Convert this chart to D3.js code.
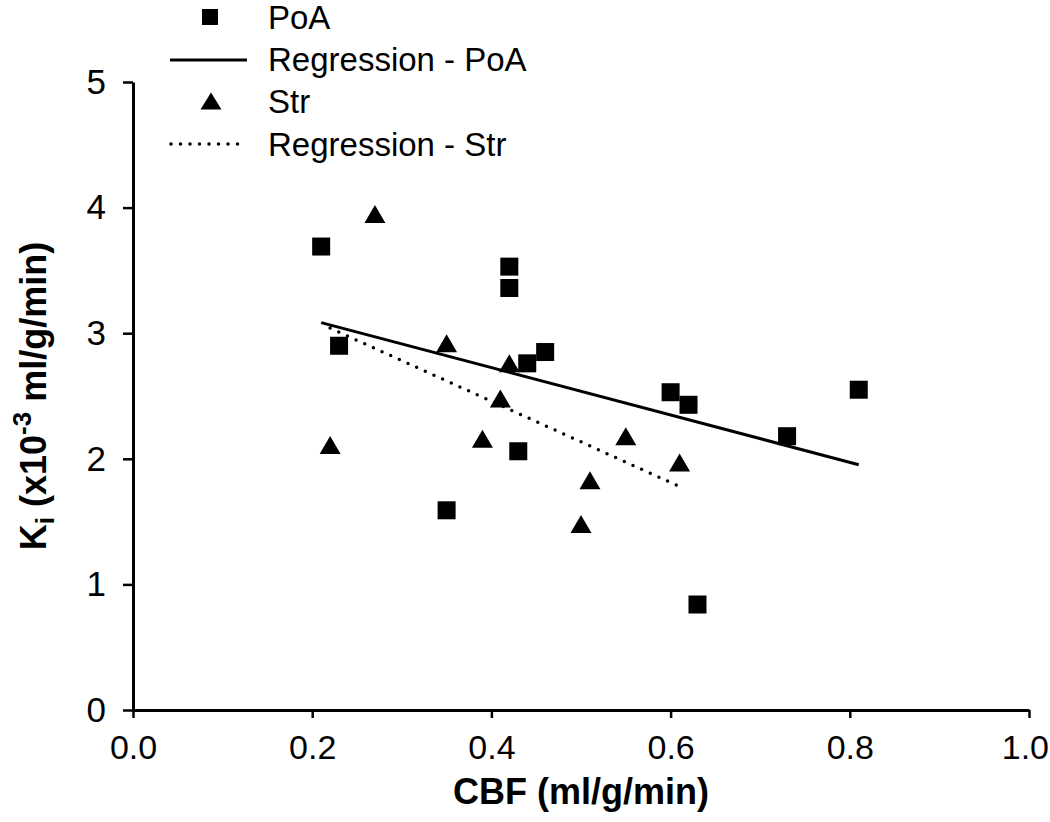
<!DOCTYPE html>
<html><head><meta charset="utf-8">
<script src="https://cdn.jsdelivr.net/npm/d3@7"></script>
<style>
body{margin:0;background:#fff}
text{font-family:"Liberation Sans",Arial,Helvetica,sans-serif;fill:#000}
</style>
</head><body>
<svg id="c" width="1050" height="822"></svg>
<script>
// ---- data ----
const poaX = [0.21,0.23,0.35,0.42,0.42,0.43,0.44,0.46,0.60,0.62,0.63,0.73,0.81];
const poaY = [3.69,2.90,1.59,3.53,3.36,2.06,2.76,2.85,2.53,2.43,0.84,2.18,2.55];
const strX = [0.22,0.27,0.35,0.39,0.41,0.42,0.50,0.51,0.55,0.61];
const strY = [2.11,3.95,2.92,2.16,2.48,2.76,1.48,1.83,2.18,1.97];
const xTicks = [0,0.2,0.4,0.6,0.8,1.0];
const yTicks = [0,1,2,3,4,5];
const legendLabels = ["PoA","Regression - PoA","Str","Regression - Str"];
const xTitle = "CBF (ml/g/min)";

const W = 1050;
const svg = d3.select("#c");
const x = d3.scaleLinear().domain([0,1]).range([133,1029]);
const y = d3.scaleLinear().domain([0,5]).range([710,82]);

function fit(xs, ys){
  const mx = d3.mean(xs), my = d3.mean(ys);
  let sxy=0, sxx=0;
  xs.forEach((v,i)=>{ sxy += (v-mx)*(ys[i]-my); sxx += (v-mx)*(v-mx); });
  const b = sxy/sxx, a = my - b*mx;
  const x0 = d3.min(xs), x1 = d3.max(xs);
  return [[x0, a+b*x0],[x1, a+b*x1]];
}

// axes
const xAxis = d3.axisBottom(x).tickValues(xTicks).tickFormat(d3.format(".1f"))
  .tickSizeInner(8).tickSizeOuter(0).tickPadding(17);
const yAxis = d3.axisLeft(y).tickValues(yTicks).tickFormat(d3.format("d"))
  .tickSizeInner(10).tickSizeOuter(0).tickPadding(17);

const gx = svg.append("g").attr("transform","translate(0,710)").call(xAxis);
const gy = svg.append("g").attr("transform","translate(133,0)").call(yAxis);
[gx,gy].forEach(g=>{
  g.select(".domain").attr("stroke","#000").attr("stroke-width",3);
  g.selectAll(".tick line").attr("stroke","#000").attr("stroke-width",2.5);
  g.selectAll(".tick text").attr("font-family","Liberation Sans, Arial, sans-serif").attr("fill","#000");
});
gx.selectAll(".tick text").attr("font-size",34);
gy.selectAll(".tick text").attr("font-size",35);
// keep the last x label inside the picture
gx.selectAll(".tick text").each(function(){
  const bb = this.getBBox(), tick = this.parentNode;
  const tx = +tick.getAttribute("transform").match(/translate\(([-\d.]+)/)[1];
  const over = tx + bb.x + bb.width - (W - 1);
  if (over > 0) d3.select(this).attr("x", -over);
});

// regression lines
const line = d3.line().x(d=>x(d[0])).y(d=>y(d[1]));
svg.append("path").datum(fit(poaX,poaY)).attr("d",line)
  .attr("fill","none").attr("stroke","#000").attr("stroke-width",3);
svg.append("path").datum(fit(strX,strY)).attr("d",line)
  .attr("fill","none").attr("stroke","#000").attr("stroke-width",3.5)
  .attr("stroke-linecap","round").attr("stroke-dasharray","0 9.5");

// marker shapes (relative to centre)
const sq = 18;
const triPath = (w,h)=>`M0,${-h/2}L${w/2},${h/2}L${-w/2},${h/2}Z`;

svg.append("g").selectAll("rect").data(poaX.map((v,i)=>[v,poaY[i]])).join("rect")
  .attr("x",d=>x(d[0])-sq/2).attr("y",d=>y(d[1])-sq/2)
  .attr("width",sq).attr("height",sq).attr("fill","#000");

svg.append("g").selectAll("path").data(strX.map((v,i)=>[v,strY[i]])).join("path")
  .attr("transform",d=>`translate(${x(d[0])},${y(d[1])})`)
  .attr("d",triPath(21,18)).attr("fill","#000");

// axis titles
svg.append("text").attr("x",x(0.5)).attr("y",804).attr("text-anchor","middle")
  .attr("font-size",36).attr("font-weight","bold").text(xTitle);

const yt = svg.append("text").attr("transform",`translate(46,${(y(0)+y(5))/2}) rotate(-90)`)
  .attr("text-anchor","middle").attr("font-size",36).attr("font-weight","bold");
yt.append("tspan").text("K");
yt.append("tspan").attr("font-size",26).attr("dy",8).text("i");
yt.append("tspan").attr("dy",-8).text(" (x10");
yt.append("tspan").attr("font-size",26).attr("dy",-15).text("-3");
yt.append("tspan").attr("dy",15).text(" ml/g/min)");

// legend
const lg = svg.append("g");
const rowsY = [17,59,101,144];
lg.append("rect").attr("x",202).attr("y",rowsY[0]-8).attr("width",16).attr("height",16).attr("fill","#000");
lg.append("line").attr("x1",170).attr("x2",247).attr("y1",rowsY[1]+1).attr("y2",rowsY[1]+1)
  .attr("stroke","#000").attr("stroke-width",3);
lg.append("path").attr("transform",`translate(211,${rowsY[2]})`).attr("d",triPath(21,17)).attr("fill","#000");
lg.append("line").attr("x1",171).attr("x2",247).attr("y1",rowsY[3]).attr("y2",rowsY[3])
  .attr("stroke","#000").attr("stroke-width",3.5).attr("stroke-linecap","round").attr("stroke-dasharray","0 9.5");
lg.selectAll("text.l").data(legendLabels).join("text").attr("class","l")
  .attr("x",268).attr("y",(d,i)=>rowsY[i]).attr("dy","0.35em")
  .attr("font-size",33).text(d=>d);
</script>
</body></html>
